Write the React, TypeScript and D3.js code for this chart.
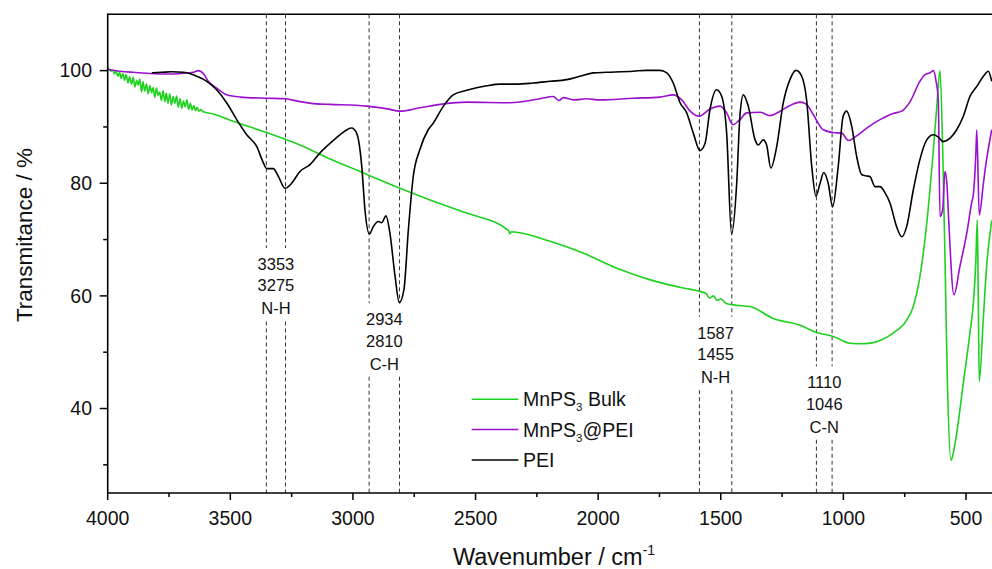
import React from 'react';
import * as d3 from 'd3';

type P = [number, number];

const xMajorTicks = [4000, 3500, 3000, 2500, 2000, 1500, 1000, 500];
const xMinorTicks = [3750, 3250, 2750, 2250, 1750, 1250, 750];
const yMajorTicks = [40, 60, 80, 100];
const yMinorTicks = [30, 50, 70, 90];

const seriesNames = ['MnPS3 Bulk', 'MnPS3@PEI', 'PEI'];

const bulkData: P[] = [
  [4000, 100.5], [3992, 100.2], [3986, 99.9], [3979, 100.1], [3972, 99.4], [3966, 99.9], [3958, 99.0],
  [3951, 99.7], [3945, 98.6], [3938, 99.5], [3931, 98.3], [3925, 99.3], [3917, 97.8], [3911, 98.9],
  [3903, 97.6], [3896, 98.8], [3889, 97.1], [3882, 98.3], [3876, 97.4], [3869, 98.5], [3862, 96.2],
  [3856, 98.0], [3849, 96.4], [3842, 97.6], [3835, 95.9], [3828, 97.3], [3821, 96.1], [3815, 97.0],
  [3808, 95.3], [3801, 96.9], [3795, 95.6], [3788, 96.2], [3781, 94.7], [3774, 96.4], [3767, 94.5],
  [3761, 96.0], [3754, 94.2], [3747, 95.9], [3740, 93.9], [3733, 95.4], [3726, 94.2], [3719, 95.5],
  [3712, 93.5], [3705, 95.0], [3698, 93.3], [3691, 94.6], [3684, 93.6], [3677, 94.8], [3670, 93.1],
  [3663, 94.2], [3656, 93.0], [3649, 93.8], [3642, 92.9], [3635, 93.5], [3628, 92.8], [3620, 93.1],
  [3610, 92.7], [3569, 92.3], [3488, 91.0],
  [3352, 89.0], [3216, 86.8], [3093, 84.3], [2950, 81.7], [2808, 79.1], [2672, 76.8], [2536, 74.7],
  [2365, 71.6], [2360, 71.0], [2355, 71.4], [2196, 69.7], [2061, 67.6], [1924, 64.9], [1784, 62.8],
  [1653, 61.4], [1585, 60.8], [1560, 60.4], [1545, 59.6], [1530, 60.0], [1515, 59.2], [1500, 59.5],
  [1480, 58.7], [1449, 58.4], [1381, 58.1], [1286, 56.0], [1177, 54.8], [1109, 53.5], [1041, 52.8],
  [973, 51.6], [920, 51.5], [878, 51.7], [840, 52.3], [797, 53.4], [742, 55.7], [715, 58.1],
  [688, 63.4], [660, 72.9], [633, 86.0], [620, 93.1], [606, 100.0], [595, 86.0], [585, 65.0],
  [576, 45.0], [561, 30.8], [555, 31.5], [538, 35.6], [511, 44.5], [484, 53.4], [470, 58.7],
  [460, 66.0], [454, 73.5], [450, 60.0], [446, 44.8], [429, 56.3], [416, 65.2], [395, 73.4],
];

const peiCompositeData: P[] = [
  [4000, 100.2], [3950, 99.9], [3896, 99.7], [3828, 99.5], [3759, 99.4], [3700, 99.5], [3650, 99.7],
  [3631, 100.0], [3610, 99.5], [3590, 98.1], [3556, 96.9], [3515, 95.7], [3460, 95.3], [3352, 95.1],
  [3277, 95.0], [3216, 94.5], [3148, 94.1], [3093, 94.0], [2944, 93.7], [2860, 93.2], [2808, 92.8],
  [2727, 93.4], [2631, 94.1], [2536, 94.4], [2359, 94.3], [2237, 95.0], [2183, 95.4], [2160, 94.7],
  [2142, 95.2], [2100, 94.8], [2047, 95.0], [1993, 94.8], [1857, 95.1], [1748, 95.3], [1694, 95.7],
  [1659, 94.8], [1625, 92.8], [1588, 91.9], [1544, 93.2], [1503, 93.7], [1476, 92.5], [1451, 90.4],
  [1422, 91.3], [1394, 92.5], [1340, 92.6], [1299, 92.0], [1258, 92.8], [1218, 93.8], [1177, 94.4],
  [1150, 94.0], [1123, 92.2], [1082, 89.5], [1041, 89.0], [1007, 88.9], [980, 87.6], [946, 88.4],
  [905, 89.8], [851, 91.3], [797, 92.4], [762, 92.8], [728, 94.5], [688, 98.1], [667, 99.3],
  [647, 99.6], [633, 100.0], [622, 98.1], [613, 94.8], [606, 74.1], [595, 75.3], [586, 82.1],
  [578, 80.0], [572, 74.7], [549, 60.2], [525, 65.2], [497, 71.1], [477, 76.5], [470, 78.0],
  [460, 85.0], [456, 89.5], [446, 74.4], [429, 80.0], [422, 82.4], [395, 89.5],
];

const peiData: P[] = [
  [3820, 99.6], [3780, 99.7], [3740, 99.8], [3692, 99.7], [3660, 99.4], [3637, 99.0], [3596, 98.1],
  [3556, 96.6], [3515, 94.3], [3474, 91.3], [3433, 88.6], [3392, 86.5], [3365, 83.6], [3352, 82.6],
  [3325, 82.6], [3304, 81.2], [3277, 79.1], [3250, 80.0], [3216, 82.1], [3175, 83.3], [3134, 85.4],
  [3093, 87.1], [3053, 88.6], [3005, 89.8], [2985, 88.9], [2964, 83.0], [2951, 75.3], [2933, 71.0],
  [2917, 72.3], [2897, 73.2], [2883, 73.0], [2865, 74.2], [2849, 71.1], [2828, 63.4], [2811, 58.8],
  [2792, 61.1], [2774, 71.7], [2754, 81.2], [2727, 86.0], [2693, 89.5], [2672, 90.7], [2631, 93.7],
  [2591, 95.7], [2536, 96.5], [2455, 97.3], [2400, 97.6], [2332, 97.6], [2265, 97.8], [2196, 98.1],
  [2128, 98.4], [2074, 99.0], [2020, 99.6], [1965, 99.7], [1857, 99.9], [1802, 100.05], [1748, 100.05],
  [1720, 99.6], [1694, 97.8], [1666, 94.3], [1639, 92.5], [1612, 88.9], [1585, 85.8], [1564, 87.1],
  [1544, 93.1], [1517, 96.6], [1496, 95.4], [1476, 88.9], [1456, 71.0], [1435, 80.0], [1422, 91.9],
  [1408, 95.7], [1388, 93.7], [1360, 87.7], [1347, 86.8], [1327, 87.7], [1313, 86.8], [1296, 82.7],
  [1272, 86.5], [1245, 94.3], [1218, 98.4], [1193, 100.05], [1170, 99.0], [1150, 94.8], [1129, 83.0],
  [1112, 77.7], [1095, 80.0], [1080, 81.9], [1062, 80.0], [1044, 75.8], [1021, 83.0], [1001, 91.9],
  [987, 92.8], [966, 90.1], [946, 84.8], [925, 81.5], [905, 81.3], [892, 81.2], [871, 79.4],
  [851, 79.4], [830, 78.3], [810, 76.5], [783, 72.3], [762, 70.5], [742, 72.3], [715, 78.8],
  [688, 84.2], [660, 87.7], [633, 88.6], [613, 88.2], [593, 87.4], [565, 88.0], [538, 89.5],
  [511, 91.9], [484, 95.4], [456, 97.2], [429, 99.0], [409, 99.9], [395, 98.1],
];

// Band annotations: marked wavenumbers, text lines, and the transmittance of the first text baseline
const bandPairs: [number, number][] = [[3353, 3275], [2934, 2810], [1587, 1455], [1110, 1046]];
const bandLabels: string[][] = [
  ['3353', '3275', 'N-H'],
  ['2934', '2810', 'C-H'],
  ['1587', '1455', 'N-H'],
  ['1110', '1046', 'C-N'],
];
const bandLabelAt = [64.6, 54.8, 52.4, 43.6];

const colors = ['#1fd11f', '#9b0fcf', '#000000'];
const FONT = "'Liberation Sans', Arial, Helvetica, sans-serif";

export default function App() {
  const W = 992;
  const H = 569;
  const x = d3.scaleLinear().domain([4000, 500]).range([107.7, 966]);
  const y = d3.scaleLinear().domain([25, 110]).range([493, 14.3]);
  const x0 = x(4000);
  const yTop = y(110);
  const yBot = y(25);

  const line = d3
    .line<P>()
    .x((d) => x(d[0]))
    .y((d) => y(d[1]))
    .curve(d3.curveMonotoneX);

  const allSeries = [bulkData, peiCompositeData, peiData];

  const lineH = 21.5;

  return (
    <svg
      width={W}
      height={H}
      style={{ position: 'absolute', left: 0, top: 0, background: '#fff' }}
      fontFamily={FONT}
    >
      <defs>
        <clipPath id="plotClip">
          <rect x={x0} y={yTop} width={W - x0} height={yBot - yTop} />
        </clipPath>
      </defs>
      <rect x={0} y={0} width={W} height={H} fill="#fff" />

      {/* dashed band markers */}
      {bandPairs.map((pair, gi) => {
        const b0 = y(bandLabelAt[gi]);
        const gapTop = b0 - 22;
        const gapBot = b0 + 2 * lineH + 1.5 + 7;
        return pair.map((wn) => (
          <g key={`m-${wn}`} stroke="#333" strokeWidth={1} strokeDasharray="4,3">
            <line x1={x(wn)} x2={x(wn)} y1={yTop} y2={gapTop} />
            <line x1={x(wn)} x2={x(wn)} y1={gapBot} y2={yBot} />
          </g>
        ));
      })}

      {/* band labels */}
      {bandLabels.map((lines, gi) => {
        const cx = (x(bandPairs[gi][0]) + x(bandPairs[gi][1])) / 2;
        const b0 = y(bandLabelAt[gi]);
        return (
          <g key={`bl-${gi}`} fontSize={16.5} textAnchor="middle" fill="#111">
            {lines.map((t, i) => (
              <text key={i} x={cx} y={b0 + i * lineH + (i === 2 ? 1.5 : 0)}>
                {t}
              </text>
            ))}
          </g>
        );
      })}

      {/* series */}
      <g clipPath="url(#plotClip)" fill="none" strokeLinejoin="round">
        {allSeries.map((data, i) => (
          <path key={i} d={line(data) || ''} stroke={colors[i]} strokeWidth={1.6} />
        ))}
      </g>

      {/* axes frame */}
      <g stroke="#000" strokeWidth={1.6} fill="none">
        <line x1={x0} x2={x0} y1={yTop - 0.8} y2={yBot + 0.8} />
        <line x1={x0} x2={W} y1={yBot} y2={yBot} />
        <line x1={x0} x2={W} y1={yTop} y2={yTop} />
      </g>

      {/* ticks */}
      <g stroke="#000" strokeWidth={1.5}>
        {xMajorTicks.map((t) => (
          <line key={`xM${t}`} x1={x(t)} x2={x(t)} y1={yBot} y2={yBot + 7} />
        ))}
        {xMinorTicks.map((t) => (
          <line key={`xm${t}`} x1={x(t)} x2={x(t)} y1={yBot} y2={yBot + 4} />
        ))}
        {yMajorTicks.map((t) => (
          <line key={`yM${t}`} x1={x0 - 8} x2={x0} y1={y(t)} y2={y(t)} />
        ))}
        {yMinorTicks.map((t) => (
          <line key={`ym${t}`} x1={x0 - 4.5} x2={x0} y1={y(t)} y2={y(t)} />
        ))}
      </g>

      <g fontSize={19.5} fill="#111">
        {xMajorTicks.map((t) => (
          <text key={`xl${t}`} x={x(t)} y={525} textAnchor="middle">
            {t}
          </text>
        ))}
        {yMajorTicks.map((t) => (
          <text key={`yl${t}`} x={92} y={y(t)} dy="0.35em" textAnchor="end">
            {t}
          </text>
        ))}
      </g>

      {/* axis titles */}
      <text
        transform="translate(32,235) rotate(-90)"
        textAnchor="middle"
        fontSize={22.5}
        fill="#111"
      >
        Transmitance / %
      </text>
      <text x={554} y={565} textAnchor="middle" fontSize={23.5} fill="#111">
        Wavenumber / cm
        <tspan fontSize={14} dy={-10}>-1</tspan>
      </text>

      {/* legend */}
      <g fontSize={19.5} fill="#111">
        {seriesNames.map((name, i) => {
          const ly = 399.3 + i * 30.3;
          const sub = name.startsWith('MnPS3');
          const rest = sub ? name.slice(5) : name;
          return (
            <g key={name}>
              <line x1={471.7} x2={518.3} y1={ly} y2={ly} stroke={colors[i]} strokeWidth={1.5} />
              <text x={523} y={ly + 7}>
                {sub ? (
                  <>
                    MnPS
                    <tspan fontSize={11.5} dy={5}>3</tspan>
                    <tspan dy={-5}>{rest}</tspan>
                  </>
                ) : (
                  name
                )}
              </text>
            </g>
          );
        })}
      </g>
    </svg>
  );
}
